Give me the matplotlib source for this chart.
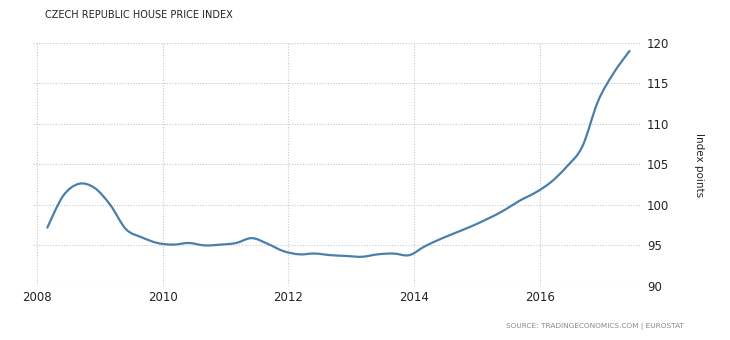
import numpy as np
import matplotlib
matplotlib.use("Agg")
import matplotlib.pyplot as plt
from matplotlib.path import Path
from matplotlib.patches import PathPatch

# quarterly house price index, 2008Q1 .. 2017Q2
start_year = 2008
index_values = [
    97.2, 101.1, 102.6, 102.1,   # 2008
    100.0, 97.0, 96.0, 95.3,     # 2009
    95.1, 95.3, 95.0, 95.1,      # 2010
    95.3, 95.9, 95.2, 94.3,      # 2011
    93.9, 94.0, 93.8, 93.7,      # 2012
    93.6, 93.9, 94.0, 93.8,      # 2013
    94.9, 95.8, 96.6, 97.4,      # 2014
    98.3, 99.3, 100.5, 101.5,    # 2015
    102.8, 104.7, 107.2, 112.8,  # 2016
    116.3, 119.0,                # 2017
]
x_ticks = [2008, 2010, 2012, 2014, 2016]
y_ticks = [90, 95, 100, 105, 110, 115, 120]

title = "CZECH REPUBLIC HOUSE PRICE INDEX"
y_label = "Index points"
source = "SOURCE: TRADINGECONOMICS.COM | EUROSTAT"

LINE_COLOR = "#4a7fab"
GRID_COLOR = "#c8c8c8"


def spline_path(x, y, smooth=1.0 / 6):
    """Catmull-Rom style bezier path through the points."""
    verts = [(x[0], y[0])]
    codes = [Path.MOVETO]
    n = len(x)
    for i in range(n - 1):
        x0, y0 = x[max(i - 1, 0)], y[max(i - 1, 0)]
        x1, y1 = x[i], y[i]
        x2, y2 = x[i + 1], y[i + 1]
        x3, y3 = x[min(i + 2, n - 1)], y[min(i + 2, n - 1)]
        c1 = (x1 + (x2 - x0) * smooth, y1 + (y2 - y0) * smooth)
        c2 = (x2 - (x3 - x1) * smooth, y2 - (y3 - y1) * smooth)
        verts += [c1, c2, (x2, y2)]
        codes += [Path.CURVE4] * 3
    return Path(verts, codes)


years = start_year + 0.17 + 0.25 * np.arange(len(index_values))
values = np.array(index_values)

fig = plt.figure(figsize=(7.3, 3.4), dpi=100)
ax = fig.add_axes([0.045, 0.159, 0.832, 0.715])

ax.add_patch(PathPatch(spline_path(years, values), fill=False,
                       edgecolor=LINE_COLOR, linewidth=1.6,
                       capstyle="round", joinstyle="round", zorder=3))

ax.set_xlim(2007.94, 2017.59)
ax.set_ylim(90, 120)
ax.set_xticks(x_ticks)
ax.set_yticks(y_ticks)
ax.xaxis.set_major_formatter(matplotlib.ticker.FormatStrFormatter("%d"))

ax.grid(True, color=GRID_COLOR, linestyle=(0, (1, 1.5)), linewidth=0.8)
ax.set_axisbelow(True)
for s in ax.spines.values():
    s.set_visible(False)

ax.yaxis.tick_right()
ax.tick_params(axis="both", length=0, labelsize=8.5, labelcolor="#222222")
ax.tick_params(axis="y", pad=5)
ax.tick_params(axis="x", pad=4)

fig.text(0.958, 0.515, y_label, rotation=-90, ha="center", va="center",
         fontsize=7.5, color="#222222")
fig.text(0.062, 0.955, title, ha="left", va="center",
         fontsize=7, color="#222222")
fig.text(0.937, 0.04, source, ha="right", va="center",
         fontsize=5.3, color="#8a8a8a")

fig.savefig("out.png", dpi=100)
